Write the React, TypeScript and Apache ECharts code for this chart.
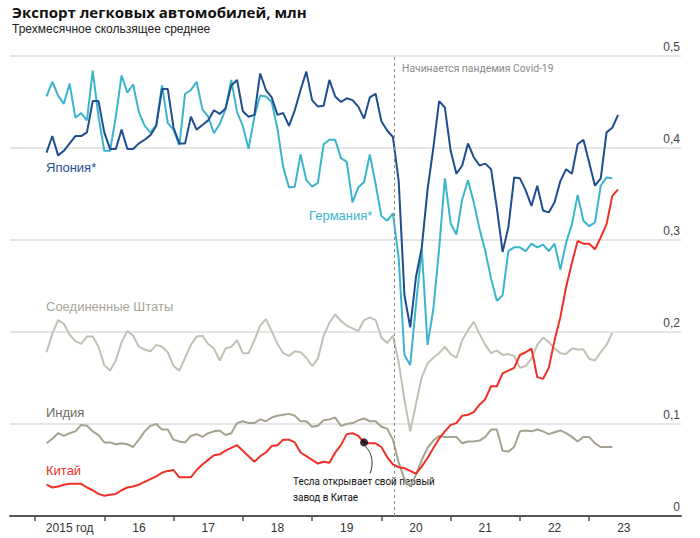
import React, { useEffect, useRef } from "react";
import * as echarts from "echarts";

// months counted from January 2015 (0 = Jan 2015); first data point = March 2015
const START_MONTH = 2;
const YEAR_TICKS = [0, 12, 24, 36, 48, 60, 72, 84, 96];
const YEAR_LABEL_POS = [6, 18, 30, 42, 54, 66, 78, 90, 102];
const YEAR_LABELS = ["2015 год", "16", "17", "18", "19", "20", "21", "22", "23"];
const Y_TICKS = [0, 0.1, 0.2, 0.3, 0.4, 0.5];
const COVID_MONTH = 62.2;
const TESLA_MONTH = 57;

const JAPAN = [
  0.395, 0.413, 0.392, 0.397, 0.405, 0.413, 0.413, 0.417, 0.451, 0.451,
  0.417, 0.399, 0.399, 0.420, 0.399, 0.399, 0.405, 0.409, 0.414, 0.424,
  0.464, 0.464, 0.422, 0.405, 0.405, 0.434, 0.420, 0.425, 0.430, 0.441,
  0.437, 0.443, 0.468, 0.474, 0.440, 0.434, 0.436, 0.481, 0.463, 0.455,
  0.436, 0.438, 0.424, 0.441, 0.463, 0.483, 0.452, 0.445, 0.446, 0.474,
  0.456, 0.450, 0.454, 0.452, 0.445, 0.432, 0.455, 0.459, 0.429, 0.419,
  0.412, 0.364, 0.240, 0.205, 0.260, 0.292, 0.355, 0.400, 0.451, 0.444,
  0.397, 0.372, 0.381, 0.405, 0.390, 0.381, 0.383, 0.377, 0.335, 0.287,
  0.314, 0.368, 0.367, 0.354, 0.337, 0.359, 0.332, 0.330, 0.341, 0.364,
  0.377, 0.372, 0.404, 0.409, 0.384, 0.359, 0.367, 0.417, 0.422, 0.436,
];

const GERMANY = [
  0.456, 0.472, 0.457, 0.448, 0.470, 0.433, 0.438, 0.430, 0.484, 0.434,
  0.397, 0.397, 0.434, 0.479, 0.460, 0.469, 0.439, 0.424, 0.417, 0.425,
  0.468, 0.427, 0.420, 0.403, 0.459, 0.463, 0.472, 0.442, 0.434, 0.416,
  0.426, 0.442, 0.474, 0.439, 0.424, 0.399, 0.434, 0.457, 0.456, 0.450,
  0.421, 0.379, 0.357, 0.358, 0.393, 0.365, 0.358, 0.362, 0.404, 0.409,
  0.409, 0.389, 0.385, 0.341, 0.357, 0.363, 0.393, 0.361, 0.326, 0.321,
  0.329, 0.280, 0.175, 0.164, 0.230, 0.290, 0.186, 0.225, 0.290, 0.367,
  0.318, 0.306, 0.344, 0.365, 0.341, 0.312, 0.288, 0.258, 0.234, 0.240,
  0.288, 0.292, 0.292, 0.288, 0.296, 0.292, 0.295, 0.288, 0.296, 0.268,
  0.297, 0.317, 0.349, 0.321, 0.315, 0.319, 0.359, 0.368, 0.367,
];

const USA = [
  0.178, 0.198, 0.213, 0.209, 0.197, 0.190, 0.187, 0.195, 0.195, 0.184,
  0.164, 0.158, 0.169, 0.189, 0.201, 0.196, 0.184, 0.181, 0.179, 0.186,
  0.184, 0.178, 0.163, 0.158, 0.172, 0.186, 0.195, 0.196, 0.187, 0.182,
  0.169, 0.182, 0.184, 0.191, 0.177, 0.177, 0.191, 0.207, 0.214, 0.201,
  0.187, 0.177, 0.174, 0.179, 0.178, 0.172, 0.163, 0.171, 0.196, 0.210,
  0.219, 0.212, 0.207, 0.204, 0.201, 0.213, 0.216, 0.213, 0.194, 0.188,
  0.196, 0.167, 0.126, 0.092, 0.122, 0.151, 0.166, 0.172, 0.177, 0.184,
  0.176, 0.172, 0.191, 0.202, 0.211, 0.198, 0.186, 0.177, 0.180, 0.175,
  0.176, 0.174, 0.161, 0.163, 0.171, 0.186, 0.194, 0.189, 0.182, 0.177,
  0.176, 0.182, 0.181, 0.181, 0.171, 0.169, 0.178, 0.186, 0.199,
];

const INDIA = [
  0.079, 0.084, 0.090, 0.087, 0.090, 0.092, 0.099, 0.098, 0.092, 0.088,
  0.080, 0.080, 0.078, 0.079, 0.078, 0.075, 0.083, 0.092, 0.098, 0.100,
  0.094, 0.094, 0.083, 0.081, 0.080, 0.087, 0.089, 0.086, 0.090, 0.092,
  0.093, 0.088, 0.090, 0.101, 0.103, 0.101, 0.101, 0.105, 0.103, 0.107,
  0.109, 0.110, 0.111, 0.109, 0.103, 0.103, 0.097, 0.098, 0.104, 0.105,
  0.107, 0.098, 0.100, 0.101, 0.104, 0.106, 0.103, 0.103, 0.097, 0.095,
  0.083, 0.058, 0.040, 0.032, 0.045, 0.061, 0.074, 0.082, 0.087, 0.086,
  0.086, 0.086, 0.079, 0.081, 0.081, 0.082, 0.086, 0.094, 0.094, 0.071,
  0.070, 0.075, 0.092, 0.093, 0.092, 0.094, 0.092, 0.089, 0.091, 0.093,
  0.090, 0.086, 0.081, 0.086, 0.086, 0.079, 0.075, 0.075, 0.075,
];

const CHINA = [
  0.034, 0.031, 0.032, 0.034, 0.035, 0.035, 0.035, 0.031, 0.028, 0.024,
  0.022, 0.023, 0.024, 0.028, 0.031, 0.032, 0.034, 0.037, 0.040, 0.043,
  0.047, 0.049, 0.050, 0.042, 0.042, 0.042, 0.050, 0.056, 0.061, 0.066,
  0.067, 0.071, 0.074, 0.077, 0.071, 0.065, 0.059, 0.065, 0.069, 0.076,
  0.077, 0.083, 0.083, 0.080, 0.069, 0.065, 0.061, 0.057, 0.059, 0.058,
  0.069, 0.077, 0.089, 0.090, 0.087, 0.080, 0.079, 0.079, 0.075, 0.064,
  0.056, 0.053, 0.052, 0.049, 0.046, 0.054, 0.063, 0.074, 0.084, 0.092,
  0.099, 0.101, 0.109, 0.110, 0.113, 0.121, 0.127, 0.141, 0.141, 0.155,
  0.158, 0.161, 0.175, 0.178, 0.182, 0.151, 0.149, 0.161, 0.191, 0.216,
  0.249, 0.275, 0.299, 0.296, 0.296, 0.290, 0.303, 0.317, 0.348, 0.355,
];

const C_JAPAN = "#1f4e8f";
const C_GERMANY = "#3bb5cd";
const C_USA = "#c3c0b3";
const C_INDIA = "#a6a28e";
const C_CHINA = "#ee3026";
const FONT = "'Liberation Sans', Arial, sans-serif";
const NARROW = "Roboto, 'Liberation Sans', sans-serif";
const TITLE_FONT = "'Open Sans', 'Liberation Sans', sans-serif";

const toPairs = (arr: number[]) => arr.map((v, i) => [START_MONTH + i, v]);

const lineSeries = (name: string, data: number[], color: string, extra: any = {}) => ({
  type: "line",
  name,
  data: toPairs(data),
  showSymbol: false,
  symbol: "none",
  lineStyle: { color, width: 2 },
  itemStyle: { color },
  emphasis: { disabled: true },
  ...extra,
});

export default function App() {
  const ref = useRef<HTMLDivElement>(null);
  useEffect(() => {
    const chart = echarts.init(ref.current!, null, { renderer: "svg" });
    const option: any = {
      animation: false,
      backgroundColor: "#ffffff",
      grid: { left: 10, right: 19, top: 56, bottom: 22, containLabel: false },
      xAxis: {
        type: "value",
        min: -4.33,
        max: 111.9,
        axisLine: { show: true, lineStyle: { color: "#555555", width: 2 } },
        axisTick: {
          show: true,
          customValues: YEAR_TICKS,
          length: 5,
          lineStyle: { color: "#555555", width: 1.5 },
        },
        axisLabel: {
          show: true,
          customValues: YEAR_LABEL_POS,
          formatter: (v: number) => YEAR_LABELS[Math.round((v - 6) / 12)] ?? "",
          color: "#333333",
          fontSize: 12,
          fontFamily: FONT,
          margin: 6,
        },
        splitLine: { show: false },
      },
      yAxis: {
        type: "value",
        position: "right",
        min: 0,
        max: 0.5,
        interval: 0.1,
        axisLine: { show: false },
        axisTick: { show: false },
        splitLine: { show: true, lineStyle: { color: "#dedede", width: 1.5 } },
        axisLabel: {
          inside: true,
          margin: 1,
          verticalAlign: "bottom",
          padding: [0, 0, 3, 0],
          color: "#444444",
          fontSize: 12,
          fontFamily: FONT,
          formatter: (v: number) =>
            Y_TICKS.includes(Math.round(v * 10) / 10)
              ? v === 0
                ? "0"
                : v.toFixed(1).replace(".", ",")
              : "",
        },
      },
      series: [
        lineSeries("Соединенные Штаты", USA, C_USA),
        lineSeries("Индия", INDIA, C_INDIA),
        lineSeries("Германия", GERMANY, C_GERMANY),
        lineSeries("Япония", JAPAN, C_JAPAN, {
          markLine: {
            silent: true,
            symbol: "none",
            label: { show: false },
            lineStyle: { color: "#8a8a8a", type: [3, 3], width: 1 },
            data: [{ xAxis: COVID_MONTH }],
          },
        }),
        lineSeries("Китай", CHINA, C_CHINA),
        {
          type: "scatter",
          data: [[TESLA_MONTH, CHINA[TESLA_MONTH - START_MONTH]]],
          symbolSize: 8,
          itemStyle: { color: "#000000" },
          z: 10,
          silent: true,
        },
      ],
    };
    chart.setOption(option);

    const dot = chart.convertToPixel({ gridIndex: 0 }, [
      TESLA_MONTH,
      CHINA[TESLA_MONTH - START_MONTH],
    ]) as number[];

    const txt = (
      text: string,
      x: number,
      y: number,
      fill: string,
      fontSize: number,
      family = FONT,
      weight = "normal",
      scaleX = 1
    ) => ({
      type: "text",
      x,
      y,
      scaleX,
      silent: true,
      style: {
        text,
        fill,
        fontSize,
        fontWeight: weight,
        fontFamily: family,
        textAlign: "left",
        textVerticalAlign: "middle",
        align: "left",
        verticalAlign: "middle",
      },
    });

    chart.setOption({
      graphic: [
        txt("Экспорт легковых автомобилей, млн", 12, 12, "#111111", 15, TITLE_FONT, "bold"),
        txt("Трехмесячное скользящее среднее", 12, 29, "#222222", 12),
        txt("Япония*", 46, 167, C_JAPAN, 13),
        txt("Германия*", 309, 215, C_GERMANY, 13),
        txt("Соединенные Штаты", 46, 306, "#a7a599", 13),
        txt("Индия", 46, 412, "#6e6c64", 13),
        txt("Китай", 46, 470, C_CHINA, 13),
        txt("Начинается пандемия Covid-19", 402, 68, "#8a8a8a", 11.5, NARROW, "normal", 0.9),
        txt("Тесла открывает свой первый", 293, 481, "#111111", 11.5, NARROW, "normal", 0.86),
        txt("завод в Китае", 293, 497, "#111111", 11.5, NARROW, "normal", 0.86),
        {
          type: "bezierCurve",
          silent: true,
          shape: {
            x1: dot[0] + 1,
            y1: dot[1] + 4,
            cpx1: dot[0] + 8,
            cpy1: dot[1] + 9,
            cpx2: dot[0] + 10,
            cpy2: dot[1] + 22,
            x2: dot[0] + 6,
            y2: dot[1] + 31,
          },
          style: { stroke: "#333333", lineWidth: 1, fill: "none" },
        },
      ],
    });
    return () => chart.dispose();
  }, []);
  return (
    <div
      ref={ref}
      style={{ position: "fixed", left: 0, top: 0, width: 700, height: 538 }}
    />
  );
}
